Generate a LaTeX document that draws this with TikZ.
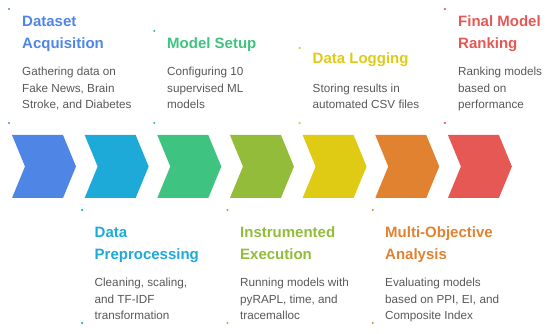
\documentclass[tikz,border=0pt]{standalone}
\usepackage{fontspec}
\setmainfont{Liberation Sans}
\definecolor{stepblue}{RGB}{79,134,230}
\definecolor{stepcyan}{RGB}{30,170,216}
\definecolor{stepgreen}{RGB}{62,196,128}
\definecolor{stepolive}{RGB}{146,188,58}
\definecolor{stepyellow}{RGB}{224,203,20}
\definecolor{steporange}{RGB}{224,130,48}
\definecolor{stepred}{RGB}{229,88,84}
\definecolor{txtgray}{RGB}{88,88,88}
\tikzset{
  head/.style={anchor=base west, align=left, inner sep=0pt, text=#1,
    font=\fontsize{15}{21.5}\selectfont\bfseries},
  desc/.style={anchor=base west, align=left, inner sep=0pt, text=txtgray,
    font=\fontsize{11.7}{16.5}\selectfont}
}
\begin{document}
\begin{tikzpicture}[x=1pt, y=-1pt]
\useasboundingbox (0,0) rectangle (550,334);
% Chevrons
\foreach \c [count=\i from 0] in {stepblue,stepcyan,stepgreen,stepolive,stepyellow,steporange,stepred}
  \fill[\c] ({12+72.65*\i},135) -- ++(51,0) -- ++(13,31.5) -- ++(-13,31.5)
    -- ++(-51,0) -- ++(13,-31.5) -- cycle;
% Dots above
\foreach \c/\i/\t in {stepblue/0/9, stepgreen/2/31, stepyellow/4/48, stepred/6/9} {
  \fill[\c] ({9+72.65*\i},\t) circle (1.2);
  \fill[\c] ({9+72.65*\i},123) circle (1.2);
}
% Dots below
\foreach \c/\i in {stepcyan/1, stepolive/3, steporange/5} {
  \fill[\c] ({9.5+72.65*\i},210) circle (1.2);
  \fill[\c] ({9.5+72.65*\i},323) circle (1.2);
}
% Dataset Acquisition
\node[head=stepblue] (acqT) at (22,48.3) {Dataset\\Acquisition};
\node[desc] (acqD) at (22,109) {Gathering data on\\Fake News, Brain\\Stroke, and Diabetes};
% Data Preprocessing
\node[head=stepcyan] (preT) at (94.5,259.5) {Data\\Preprocessing};
\node[desc] (preD) at (94.5,320) {Cleaning, scaling,\\and TF-IDF\\transformation};
% Model Setup
\node[head=stepgreen] (setT) at (167,48.3) {Model Setup};
\node[desc] (setD) at (167,109) {Configuring 10\\supervised ML\\models};
% Instrumented Execution
\node[head=stepolive] (exeT) at (240,259.5) {Instrumented\\Execution};
\node[desc] (exeD) at (240,320) {Running models with\\pyRAPL, time, and\\tracemalloc};
% Data Logging
\node[head=stepyellow] (logT) at (312.5,64) {Data Logging};
\node[desc] (logD) at (312.5,109) {Storing results in\\automated CSV files};
% Multi-Objective Analysis
\node[head=steporange] (anaT) at (385,259.5) {Multi-Objective\\Analysis};
\node[desc] (anaD) at (385,320) {Evaluating models\\based on PPI, EI, and\\Composite Index};
% Final Model Ranking
\node[head=stepred] (rnkT) at (458,48.3) {Final Model\\Ranking};
\node[desc] (rnkD) at (458,109) {Ranking models\\based on\\performance};
\end{tikzpicture}
\end{document}
